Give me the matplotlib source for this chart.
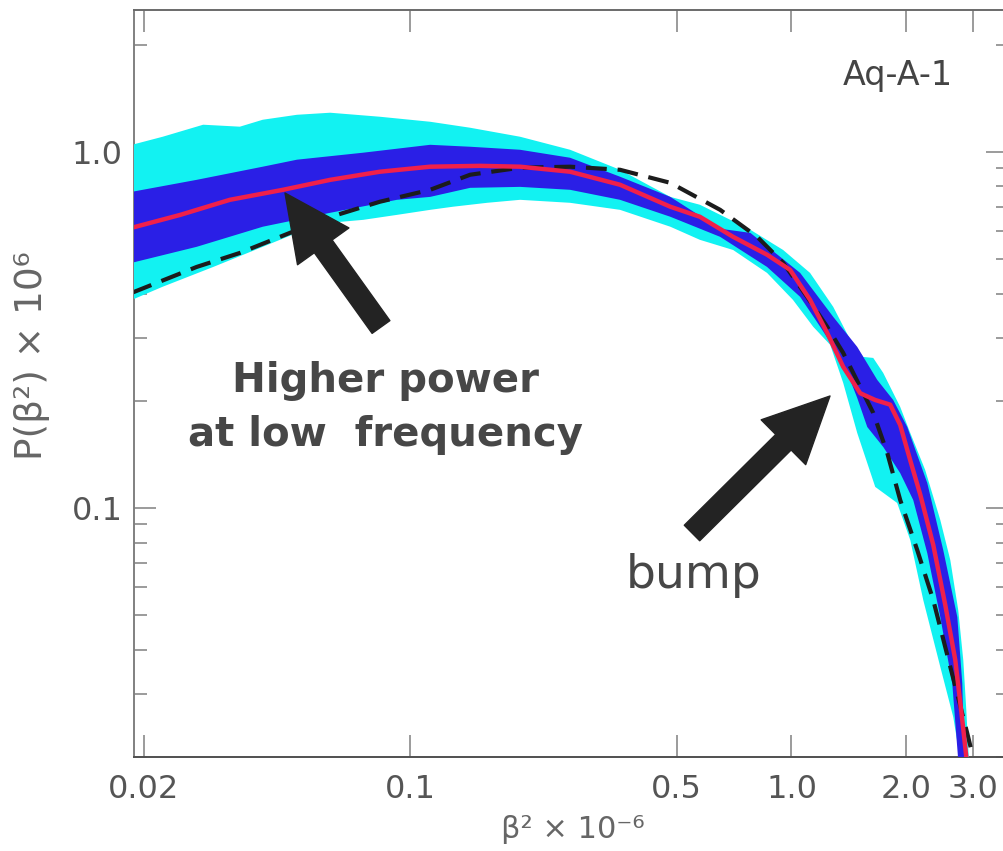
import matplotlib
matplotlib.use("Agg")
import matplotlib.pyplot as plt
from matplotlib.ticker import FixedLocator, NullFormatter, FixedFormatter

plt.rcParams['font.family'] = ['DejaVu Sans']

# ---------------- data ----------------
# median power spectrum (red)
med_x = [0.0186, 0.0249, 0.0336, 0.0463, 0.0616, 0.0832, 0.1127, 0.1524, 0.194, 0.2625,
         0.355, 0.481, 0.575, 0.703, 0.863, 0.992, 1.119, 1.241, 1.367, 1.515,
         1.659, 1.816, 1.929, 2.050, 2.178, 2.356, 2.533, 2.691, 2.807, 2.876, 2.90]
med_y = [0.612, 0.665, 0.733, 0.782, 0.834, 0.879, 0.908, 0.913, 0.908, 0.879,
         0.808, 0.701, 0.657, 0.577, 0.514, 0.466, 0.384, 0.310, 0.249, 0.210,
         0.201, 0.195, 0.171, 0.136, 0.109, 0.0787, 0.0534, 0.0374, 0.0254, 0.0200, 0.0185]

# reference spectrum (black dashed)
ref_x = [0.0186, 0.0275, 0.0357, 0.0483, 0.0642, 0.0832, 0.1127, 0.1435, 0.194, 0.2625,
         0.355, 0.481, 0.650, 0.813, 0.951, 1.099, 1.241, 1.367, 1.515, 1.639,
         1.784, 1.929, 2.138, 2.356, 2.611, 2.893, 3.03]
ref_y = [0.402, 0.475, 0.520, 0.592, 0.665, 0.724, 0.782, 0.862, 0.902, 0.908,
         0.890, 0.818, 0.687, 0.577, 0.488, 0.3915, 0.3225, 0.2725, 0.2187, 0.1849,
         0.1427, 0.1053, 0.0762, 0.0551, 0.0358, 0.0233, 0.0190]

# outer envelope (cyan)
outer_hi_x = [0.0186, 0.0224, 0.0286, 0.0357, 0.0410, 0.0504, 0.0616, 0.0832, 0.1127, 0.1435,
              0.194, 0.2625, 0.355, 0.481, 0.575, 0.780, 0.951, 1.119, 1.287, 1.427,
              1.543, 1.639, 1.741, 1.929, 2.050, 2.243, 2.458, 2.611, 2.739, 2.824, 2.876, 2.93]
outer_hi_y = [1.046, 1.102, 1.191, 1.176, 1.230, 1.270, 1.287, 1.254, 1.214, 1.168,
              1.102, 1.013, 0.890, 0.747, 0.710, 0.604, 0.530, 0.457, 0.367, 0.2963,
              0.2655, 0.2638, 0.2394, 0.1922, 0.1624, 0.1279, 0.0925, 0.0714, 0.0517, 0.0374, 0.0271, 0.0184]
outer_lo_x = [0.0186, 0.0224, 0.0304, 0.0410, 0.0504, 0.0616, 0.0752, 0.0922, 0.1127, 0.1294,
              0.159, 0.194, 0.2625, 0.355, 0.481, 0.575, 0.703, 0.863, 1.009, 1.141,
              1.264, 1.367, 1.488, 1.659, 1.894, 2.050, 2.218, 2.458, 2.658, 2.773, 2.80]
outer_lo_y = [0.384, 0.418, 0.475, 0.541, 0.592, 0.632, 0.644, 0.665, 0.687, 0.701,
              0.719, 0.733, 0.719, 0.687, 0.616, 0.566, 0.530, 0.457, 0.384, 0.3225,
              0.287, 0.2245, 0.1624, 0.1146, 0.1033, 0.0813, 0.0551, 0.0358, 0.0259, 0.0196, 0.0184]

# inner envelope (blue)
inner_hi_x = [0.0186, 0.0275, 0.0410, 0.0504, 0.0752, 0.1127, 0.1435, 0.194, 0.2625, 0.355,
              0.481, 0.650, 0.780, 1.054, 1.287, 1.488, 1.679, 1.849, 2.013, 2.272,
              2.502, 2.724, 2.807, 2.840, 2.85]
inner_hi_y = [0.772, 0.834, 0.908, 0.950, 0.994, 1.046, 1.033, 1.013, 0.962, 0.851,
              0.747, 0.608, 0.592, 0.457, 0.344, 0.2833, 0.2289, 0.201, 0.1688, 0.1175,
              0.0762, 0.0494, 0.0322, 0.0200, 0.0184]
inner_lo_x = [0.0186, 0.0275, 0.0410, 0.0616, 0.0922, 0.1127, 0.1435, 0.194, 0.2625, 0.355,
              0.481, 0.650, 0.863, 1.054, 1.190, 1.302, 1.409, 1.488, 1.581, 1.741,
              1.929, 2.087, 2.272, 2.458, 2.642, 2.739, 2.75]
inner_lo_y = [0.488, 0.541, 0.616, 0.674, 0.733, 0.747, 0.792, 0.797, 0.782, 0.733,
              0.657, 0.577, 0.475, 0.3915, 0.3225, 0.2778, 0.2363, 0.2037, 0.1688, 0.1484,
              0.1253, 0.1053, 0.0747, 0.0494, 0.0322, 0.0196, 0.0184]

x_ticks = [0.02, 0.1, 0.5, 1.0, 2.0, 3.0]
x_tick_labels = ['0.02', '0.1', '0.5', '1.0', '2.0', '3.0']
y_ticks = [0.1, 1.0]
y_tick_labels = ['0.1', '1.0']
y_minor = [0.02, 0.03, 0.04, 0.05, 0.06, 0.07, 0.08, 0.09,
           0.2, 0.3, 0.4, 0.5, 0.6, 0.7, 0.8, 0.9, 2.0]

# ---------------- figure ----------------
W, H = 1004, 851
fig = plt.figure(figsize=(W / 100, H / 100), dpi=100)
ax = fig.add_axes([134 / W, (H - 757) / H, 874 / W, 747 / H])
ax.set_xscale('log')
ax.set_yscale('log')
ax.set_xlim(0.01883, 3.70)
ax.set_ylim(0.0200, 2.50)

ax.fill(outer_hi_x + outer_lo_x[::-1], outer_hi_y + outer_lo_y[::-1],
        color='#12F2F2', lw=0, zorder=3)
ax.fill(inner_hi_x + inner_lo_x[::-1], inner_hi_y + inner_lo_y[::-1],
        color='#2A1FE6', lw=0, zorder=3.1)
ax.plot(ref_x, ref_y, color='#1c1c1c', lw=3.0, ls=(0, (5, 2.6)), zorder=4)
ax.plot(med_x, med_y, color='#F0204A', lw=3.2, zorder=4.1)

# ticks
for s in ax.spines.values():
    s.set_color('#808080')
    s.set_linewidth(1.4)
ax.spines['top'].set_color('#6a6a6a')
ax.spines['bottom'].set_color('#505050')
ax.xaxis.set_major_locator(FixedLocator(x_ticks))
ax.xaxis.set_major_formatter(FixedFormatter(x_tick_labels))
ax.xaxis.set_minor_locator(FixedLocator([]))
ax.xaxis.set_minor_formatter(NullFormatter())
ax.yaxis.set_major_locator(FixedLocator(y_ticks))
ax.yaxis.set_major_formatter(FixedFormatter(y_tick_labels))
ax.yaxis.set_minor_locator(FixedLocator(y_minor))
ax.yaxis.set_minor_formatter(NullFormatter())
ax.tick_params(which='both', direction='in', top=True, right=True, color='#8a8a8a', width=1.2)
ax.tick_params(which='major', length=16)
ax.tick_params(which='minor', length=9)
ax.tick_params(axis='x', which='major', labelsize=23, labelcolor='#555555', pad=12)
ax.tick_params(axis='y', which='major', labelsize=23, labelcolor='#555555', pad=8)

fig.text(573 / W, 1 - 830 / H, 'β² × 10⁻⁶', ha='center', va='center',
         fontsize=22, color='#666666')
fig.text(32 / W, 1 - 356 / H, 'P(β²) × 10⁶', ha='center', va='center',
         rotation=90, fontsize=27, color='#666666')

fig.text(898 / W, 1 - 75 / H, 'Aq-A-1', ha='center', va='center',
         fontsize=24, color='#444444')
fig.text(386 / W, 1 - 408 / H, 'Higher power\nat low  frequency', ha='center', va='center',
         fontsize=29, fontweight='bold', color='#474747', linespacing=1.45)
fig.text(694 / W, 1 - 576 / H, 'bump', ha='center', va='center',
         fontsize=34, color='#474747')

arrow_kw = dict(arrowstyle='simple,head_length=1.35,head_width=1.3,tail_width=0.45',
                mutation_scale=35, color='#232323', shrinkA=0, shrinkB=0)
ax.annotate('', xy=(285, H - 193), xytext=(381, H - 327), xycoords='figure pixels',
            textcoords='figure pixels', arrowprops=arrow_kw, zorder=6)
ax.annotate('', xy=(830, H - 396), xytext=(692, H - 533), xycoords='figure pixels',
            textcoords='figure pixels', arrowprops=arrow_kw, zorder=6)

fig.savefig('out.png', dpi=100)
